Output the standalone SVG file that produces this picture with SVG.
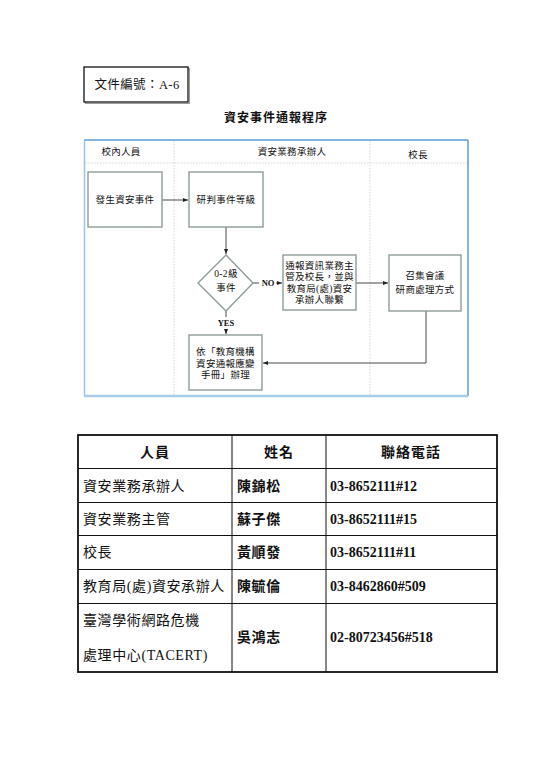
<svg xmlns="http://www.w3.org/2000/svg" width="550" height="777" viewBox="0 0 550 777">
<style>
.t{font-family:"Liberation Serif","Noto Sans CJK TC",serif;fill:#111;}
.f{font-size:9.5px;text-anchor:middle;dominant-baseline:central;letter-spacing:0.3px;}
.box{fill:#fff;stroke:#8e9c96;stroke-width:1.4;}
.ln{fill:none;stroke:#333;stroke-width:0.9;}
.dot{stroke:#c8ccd0;stroke-width:0.8;stroke-dasharray:1.5 1.5;}
.cell{font-size:14px;dominant-baseline:central;}
.sp{letter-spacing:0.6px;}
.b{font-weight:bold;}
.grid{stroke:#111;stroke-width:1;}
</style>
<defs>
<marker id="ah" markerWidth="6" markerHeight="6" refX="5" refY="3" orient="auto" markerUnits="userSpaceOnUse">
<path d="M0,1 L5,3 L0,5 Z" fill="#222"/>
</marker>
</defs>
<rect width="550" height="777" fill="#fff"/>

<g id="docno">
<rect x="85.5" y="68.5" width="104" height="35" fill="#fff" stroke="#999" stroke-width="1"/>
<rect x="84" y="67" width="104" height="35" fill="#fff" stroke="#111" stroke-width="1.3"/>
<text class="t" x="137" y="85" font-size="12.5" text-anchor="middle" dominant-baseline="central" letter-spacing="0.4">文件編號：A-6</text>
</g>

<g id="title">
<text class="t b" x="276" y="118" font-size="12" text-anchor="middle" dominant-baseline="central" letter-spacing="1">資安事件通報程序</text>
</g>

<g id="frame">
<line class="dot" x1="174" y1="141" x2="174" y2="395"/>
<line class="dot" x1="370" y1="141" x2="370" y2="395"/>
<line class="dot" x1="85" y1="163" x2="467" y2="163"/>
<line x1="84" y1="140" x2="468" y2="140" stroke="#5b9bd5" stroke-width="1.5"/>
<line x1="468" y1="140" x2="468" y2="396" stroke="#5b9bd5" stroke-width="1.5"/>
<line x1="84.5" y1="140" x2="84.5" y2="396" stroke="#9cc3e8" stroke-width="1.5"/>
<line x1="84" y1="396" x2="468" y2="396" stroke="#a9cbe9" stroke-width="2.5"/>
<text class="t f" x="121" y="152">校內人員</text>
<text class="t f" x="292" y="152">資安業務承辦人</text>
<text class="t f" x="418" y="155">校長</text>
</g>

<g id="connectors">
<line class="ln" x1="162" y1="200" x2="188" y2="200" marker-end="url(#ah)"/>
<line class="ln" x1="226" y1="227" x2="226" y2="254" marker-end="url(#ah)"/>
<line class="ln" x1="253" y1="283" x2="259" y2="283"/>
<line class="ln" x1="276" y1="283" x2="282" y2="283" marker-end="url(#ah)"/>
<line class="ln" x1="356" y1="283" x2="388" y2="283" marker-end="url(#ah)"/>
<line class="ln" x1="226" y1="311" x2="226" y2="317"/>
<line class="ln" x1="226" y1="329" x2="226" y2="334" marker-end="url(#ah)"/>
<polyline class="ln" points="426,311 426,363 263,363" marker-end="url(#ah)"/>
<text class="t b" x="268" y="283" font-size="8.5" text-anchor="middle" dominant-baseline="central">NO</text>
<text class="t b" x="226" y="323" font-size="8.5" text-anchor="middle" dominant-baseline="central">YES</text>
</g>

<g id="n1">
<rect class="box" x="88" y="172" width="74" height="55"/>
<text class="t f" x="125" y="200">發生資安事件</text>
</g>
<g id="n2">
<rect class="box" x="189" y="172" width="74" height="55"/>
<text class="t f" x="226" y="200">研判事件等級</text>
</g>
<g id="n3">
<polygon class="box" points="226,255 253,283 226,311 198,283"/>
<text class="t f" x="226" y="274">0-2級</text>
<text class="t f" x="226" y="288">事件</text>
</g>
<g id="n4">
<rect class="box" x="283" y="255" width="73" height="55"/>
<text class="t f" x="319.5" y="266" letter-spacing="0">通報資訊業務主</text>
<text class="t f" x="319.5" y="277" letter-spacing="0">管及校長，並與</text>
<text class="t f" x="319.5" y="288.5" letter-spacing="0">教育局(處)資安</text>
<text class="t f" x="319.5" y="300" letter-spacing="0">承辦人聯繫</text>
</g>
<g id="n5">
<rect class="box" x="389" y="255" width="72" height="56"/>
<text class="t f" x="425" y="276">召集會議</text>
<text class="t f" x="425" y="290">研商處理方式</text>
</g>
<g id="n6">
<rect class="box" x="189" y="335" width="73" height="55"/>
<text class="t f" x="225.5" y="352">依「教育機構</text>
<text class="t f" x="225.5" y="363.5">資安通報應變</text>
<text class="t f" x="225.5" y="375">手冊」辦理</text>
</g>

<g id="table">
<rect x="78" y="435" width="419" height="237" fill="none" stroke="#111" stroke-width="1.8"/>
<line class="grid" x1="232" y1="435" x2="232" y2="672"/>
<line class="grid" x1="326" y1="435" x2="326" y2="672"/>
<line class="grid" x1="78" y1="468.5" x2="497" y2="468.5"/>
<line class="grid" x1="78" y1="502.5" x2="497" y2="502.5"/>
<line class="grid" x1="78" y1="535.5" x2="497" y2="535.5"/>
<line class="grid" x1="78" y1="569.5" x2="497" y2="569.5"/>
<line class="grid" x1="78" y1="603.5" x2="497" y2="603.5"/>
<text class="t cell b" x="155" y="452" text-anchor="middle" letter-spacing="1">人員</text>
<text class="t cell b" x="279" y="452" text-anchor="middle" letter-spacing="1">姓名</text>
<text class="t cell b" x="411" y="452" text-anchor="middle" letter-spacing="1">聯絡電話</text>

<text class="t cell sp" x="83" y="486">資安業務承辦人</text>
<text class="t cell b sp" x="237" y="486">陳錦松</text>
<text class="t cell b" x="330" y="486">03-8652111#12</text>

<text class="t cell sp" x="83" y="519">資安業務主管</text>
<text class="t cell b sp" x="237" y="519">蘇子傑</text>
<text class="t cell b" x="330" y="519">03-8652111#15</text>

<text class="t cell sp" x="83" y="552">校長</text>
<text class="t cell b sp" x="237" y="552">黃順發</text>
<text class="t cell b" x="330" y="552">03-8652111#11</text>

<text class="t cell sp" x="83" y="586">教育局(處)資安承辦人</text>
<text class="t cell b sp" x="237" y="586">陳毓倫</text>
<text class="t cell b" x="330" y="586">03-8462860#509</text>

<text class="t cell sp" x="83" y="620">臺灣學術網路危機</text>
<text class="t cell sp" x="83" y="655">處理中心(TACERT)</text>
<text class="t cell b sp" x="237" y="637">吳鴻志</text>
<text class="t cell b" x="330" y="637">02-80723456#518</text>
</g>
</svg>
